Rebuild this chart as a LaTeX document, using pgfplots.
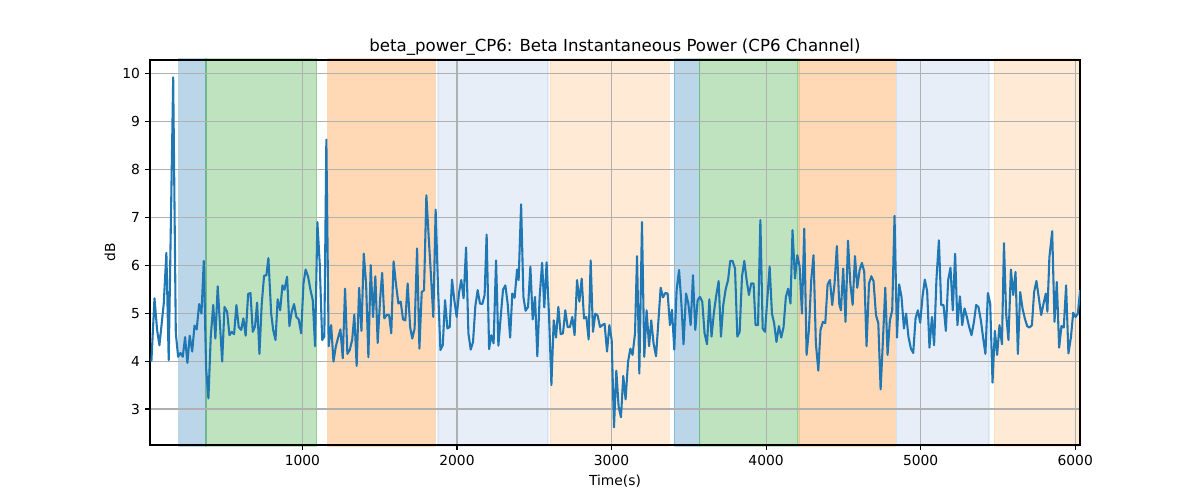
\documentclass[border=0pt]{standalone}
\usepackage{fontspec}
\setmainfont{DejaVu Sans}
\usepackage{pgfplots}
\pgfplotsset{compat=1.18}
\usepackage{pgfplotstable}
\definecolor{tabblue}{HTML}{1F77B4}
\definecolor{tabgreen}{HTML}{2CA02C}
\definecolor{taborange}{HTML}{FF7F0E}
\definecolor{lblue}{HTML}{AEC7E8}
\definecolor{lorange}{HTML}{FFBB78}
\definecolor{gridgray}{HTML}{B0B0B0}

\pgfplotstableread{
t db
23 3.99
43 5.31
60 4.65
75 4.33
103 5.20
120 6.26
135 4.02
164 9.92
181 4.58
196 4.09
211 4.17
226 4.09
241 4.50
256 3.96
271 4.53
287 4.20
302 4.74
316 4.66
332 5.19
347 4.99
362 6.09
377 3.85
392 3.22
407 4.51
423 5.17
437 4.47
452 5.56
481 3.99
496 5.13
513 5.03
528 4.54
543 4.61
558 4.56
573 5.17
588 4.71
604 4.65
618 4.89
633 4.53
649 5.40
664 5.42
679 4.61
694 4.73
707 5.22
722 4.15
737 5.20
752 5.78
767 5.79
780 6.15
798 4.99
811 4.65
826 4.44
840 5.29
856 5.06
871 5.58
884 5.49
901 5.76
916 4.73
931 5.03
946 5.19
961 4.92
976 4.87
992 4.58
1007 5.62
1021 5.91
1037 5.76
1052 5.49
1067 5.27
1082 4.31
1097 6.90
1112 6.04
1128 4.44
1142 4.51
1155 8.62
1170 4.31
1186 4.75
1201 3.99
1216 4.30
1231 4.49
1246 4.66
1261 4.06
1276 5.51
1291 4.15
1306 4.23
1322 4.44
1336 4.97
1351 3.90
1367 5.53
1382 4.63
1397 6.24
1412 5.62
1427 4.08
1442 6.00
1457 4.92
1472 5.77
1487 4.38
1503 5.30
1516 5.84
1530 4.89
1545 4.96
1561 4.96
1575 4.58
1590 6.08
1605 5.62
1621 5.20
1636 5.24
1651 4.87
1666 4.85
1681 5.62
1697 4.71
1711 4.47
1726 4.68
1742 6.35
1757 4.26
1772 5.44
1787 5.48
1802 7.46
1817 6.59
1833 5.72
1847 4.92
1862 7.16
1878 5.48
1893 4.23
1908 4.33
1923 5.27
1938 4.68
1953 4.71
1968 5.70
1983 5.27
1998 4.92
2014 5.44
2028 5.69
2043 5.31
2059 6.37
2074 4.58
2089 4.24
2104 4.40
2119 5.15
2134 5.48
2149 5.20
2164 5.19
2179 5.38
2192 6.64
2208 4.25
2222 4.54
2237 4.37
2253 6.10
2268 4.32
2283 4.92
2298 5.49
2313 5.58
2328 5.20
2344 4.49
2358 5.41
2373 5.32
2389 5.91
2399 5.69
2415 7.27
2430 5.34
2444 5.05
2460 5.13
2475 5.97
2490 4.87
2505 5.34
2520 4.10
2535 5.34
2551 6.05
2565 5.12
2580 6.06
2596 4.92
2611 3.50
2626 4.85
2641 4.49
2656 5.13
2671 4.56
2686 4.58
2701 5.06
2716 4.71
2731 4.71
2746 4.92
2761 4.54
2777 5.69
2792 5.24
2807 5.72
2822 4.89
2837 4.92
2852 4.45
2865 6.10
2880 4.61
2895 4.99
2910 4.95
2926 4.71
2940 4.75
2955 4.78
2971 4.20
2986 4.75
3001 4.44
3016 2.62
3031 3.80
3046 3.05
3061 2.83
3076 3.69
3091 3.20
3107 3.99
3122 4.26
3136 4.13
3152 4.58
3165 6.19
3180 3.74
3197 6.90
3212 4.09
3227 5.06
3243 4.31
3257 4.85
3272 4.37
3288 4.10
3303 4.82
3318 5.53
3333 5.33
3348 5.42
3363 5.41
3378 4.75
3391 5.07
3406 4.24
3421 5.48
3437 5.90
3452 5.20
3466 4.35
3482 5.41
3497 5.20
3512 4.75
3527 5.79
3542 4.65
3557 5.27
3572 5.34
3587 5.24
3602 4.58
3618 4.35
3633 5.29
3647 4.51
3663 5.03
3678 5.38
3693 5.67
3708 4.51
3723 5.17
3738 5.49
3754 5.69
3768 6.09
3783 6.09
3799 5.93
3814 4.51
3829 4.61
3844 5.76
3859 6.09
3874 5.69
3889 5.38
3904 5.62
3919 5.62
3932 4.75
3948 4.75
3963 6.94
3978 4.68
3993 4.61
4008 5.30
4023 5.97
4038 4.99
4052 4.79
4067 4.40
4083 4.73
4098 4.49
4113 4.71
4128 5.34
4143 5.51
4158 5.20
4171 6.73
4187 5.72
4202 6.21
4217 5.97
4232 4.99
4247 6.76
4262 4.13
4277 4.65
4292 5.69
4307 6.21
4322 4.37
4338 3.80
4352 4.65
4368 4.82
4383 4.79
4398 5.60
4413 5.69
4428 5.17
4443 5.62
4458 6.40
4473 5.20
4484 5.06
4499 5.93
4514 4.82
4530 6.51
4545 5.62
4560 5.17
4575 6.19
4590 5.53
4605 5.90
4620 6.05
4635 5.86
4650 4.31
4666 5.62
4681 5.77
4695 5.67
4711 4.96
4726 4.79
4741 3.41
4756 4.44
4771 5.53
4786 4.13
4801 4.85
4816 5.06
4831 7.03
4847 4.49
4861 5.60
4876 5.34
4892 4.68
4906 4.99
4921 4.51
4937 4.26
4952 4.17
4967 4.89
4982 5.06
4997 4.80
5012 5.34
5027 5.70
5042 5.46
5057 4.28
5073 4.92
5087 4.33
5102 5.69
5118 6.52
5133 5.17
5148 5.17
5163 4.63
5178 5.69
5193 5.95
5208 5.06
5223 6.24
5238 4.75
5254 5.35
5269 4.75
5284 5.10
5299 4.92
5314 4.71
5329 4.54
5345 4.82
5359 5.17
5374 5.13
5390 4.84
5404 4.49
5419 4.15
5435 5.42
5450 5.20
5465 3.55
5480 4.63
5495 4.13
5510 4.75
5526 4.35
5539 6.46
5553 4.99
5568 4.44
5584 5.91
5599 5.38
5614 5.86
5629 4.15
5644 5.44
5659 5.10
5674 4.89
5689 4.73
5704 4.70
5720 4.75
5734 5.44
5749 5.67
5765 5.31
5780 4.96
5795 5.20
5810 5.41
5820 5.03
5833 6.17
5851 6.71
5866 4.82
5881 5.65
5896 4.28
5911 4.73
5926 4.70
5941 5.58
5956 4.16
5972 4.49
5987 5.01
6002 4.92
6017 4.99
6032 5.48
}\betadata

\newcommand{\band}[3]{%
  \addplot[on layer=axis background, fill=#1, fill opacity=0.3, draw=#1, draw opacity=0.3, line width=1bp]
    coordinates {(#2,2.22) (#2,10.31) (#3,10.31) (#3,2.22)} -- cycle;}

\begin{document}
\begin{tikzpicture}
\begin{axis}[
  set layers,
  at={(0,0)}, anchor=south west,
  scale only axis, width=9.3in, height=3.85in,
  xmin=14, xmax=6031, ymin=2.25, ymax=10.28,
  xtick={1000,2000,3000,4000,5000,6000},
  ytick={3,4,5,6,7,8,9,10},
  grid=major,
  major grid style={color=gridgray, line width=0.8bp},
  axis line style={line width=0.8bp, black},
  every tick/.style={line width=0.8bp, black},
  tick align=outside, major tick length=3.5bp, tick pos=left,
  /pgf/number format/assume math mode=true,
  /pgf/number format/1000 sep={},
  xticklabel style={font=\fontsize{10}{12}\selectfont, anchor=north, inner sep=0pt, yshift=-3.5bp},
  yticklabel style={font=\fontsize{10}{12}\selectfont, anchor=east, inner sep=0pt, xshift=-3.5bp},
  xlabel={Time(s)}, ylabel={dB},
  xlabel style={font=\fontsize{10}{12}\selectfont, at={(axis description cs:0.5,0)}, anchor=center, yshift=-0.36in},
  ylabel style={font=\fontsize{10}{12}\selectfont, at={(axis description cs:0,0.5)}, anchor=center, rotate=0, yshift=0.4in},
  title={beta\_power\_CP6: Beta Instantaneous Power (CP6 Channel)},
  title style={font=\fontsize{12}{14}\selectfont, at={(axis description cs:0.5,1)}, anchor=base, inner sep=0pt},
]
\band{tabblue}{200}{377}
\band{tabgreen}{377}{1093}
\band{taborange}{1164}{1860}
\band{lblue}{1878}{2589}
\band{lorange}{2604}{3374}
\band{tabblue}{3406}{3568}
\band{tabgreen}{3568}{4206}
\band{taborange}{4215}{4836}
\band{lblue}{4842}{5442}
\band{lorange}{5476}{6021}
\addplot[tabblue, line width=1.5bp, line join=round, mark=none] table[x=t, y=db] {\betadata};
\end{axis}
\pgfresetboundingbox
\path[use as bounding box] (-1.5in,-0.55in) rectangle (10.5in,4.45in);
\end{tikzpicture}
\end{document}
